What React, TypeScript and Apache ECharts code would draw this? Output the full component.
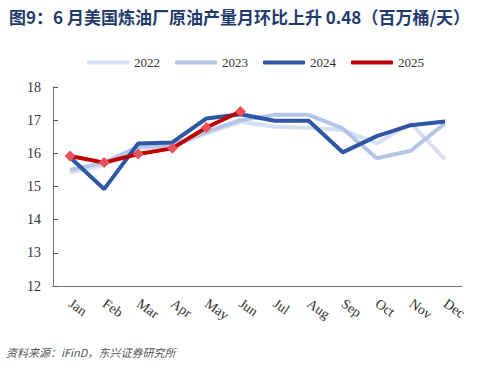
import React, { useEffect, useRef } from "react";
import * as echarts from "echarts";

const months = ["Jan", "Feb", "Mar", "Apr", "May", "Jun", "Jul", "Aug", "Sep", "Oct", "Nov", "Dec"];
const s2022 = [15.42, 15.65, 16.15, 16.2, 16.6, 16.95, 16.8, 16.77, 16.7, 16.3, 16.9, 15.82];
const s2023 = [15.5, 15.72, 16.2, 16.25, 16.65, 17.0, 17.16, 17.16, 16.75, 15.85, 16.08, 16.9];
const s2024 = [15.88, 14.92, 16.3, 16.33, 17.05, 17.18, 16.98, 16.98, 16.03, 16.52, 16.85, 16.96];
const s2025 = [15.92, 15.72, 15.98, 16.15, 16.78, 17.26];

export default function App() {
  const ref = useRef<HTMLDivElement>(null);
  useEffect(() => {
    const chart = echarts.init(ref.current!, null, { renderer: "svg" });
    const serif = "'Liberation Serif', 'Times New Roman', serif";
    const mk = (name: string, data: number[], color: string, z: number) => ({
      name,
      type: "line",
      data,
      z,
      symbol: "none",
      lineStyle: { color, width: 4 },
      itemStyle: { color },
    });
    chart.setOption({
      animation: false,
      title: {
        text: "图9：6 月美国炼油厂原油产量月环比上升 0.48（百万桶/天）",
        left: 4,
        top: 3,
        textStyle: {
          color: "#1f3b6e",
          fontSize: 17,
          fontWeight: "bold",
          fontFamily: "'Noto Sans CJK SC', sans-serif",
        },
      },
      graphic: [
        {
          type: "text",
          left: 6,
          top: 346,
          style: {
            text: "资料来源：iFinD，东兴证券研究所",
            fill: "#555",
            font: "italic 11px 'Noto Sans CJK SC', sans-serif",
          },
        },
      ],
      legend: {
        top: 51,
        left: 82,
        itemWidth: 42,
        itemHeight: 4,
        itemGap: 15,
        textStyle: { fontFamily: serif, fontSize: 13, color: "#333" },
        data: [
          { name: "2022", icon: "roundRect" },
          { name: "2023", icon: "roundRect" },
          { name: "2024", icon: "roundRect" },
          { name: "2025", icon: "roundRect", itemStyle: { color: "#c00000" } },
        ],
      },
      grid: { left: 53, right: 30, top: 87, bottom: 82 },
      xAxis: {
        type: "category",
        data: months,
        boundaryGap: true,
        axisLine: { lineStyle: { color: "#777" } },
        axisTick: { inside: true, length: 4, lineStyle: { color: "#555" } },
        axisLabel: {
          rotate: -35,
          margin: 16,
          fontFamily: serif,
          fontSize: 14,
          color: "#333",
        },
      },
      yAxis: {
        type: "value",
        min: 12,
        max: 18,
        interval: 1,
        splitLine: { show: false },
        axisLine: { show: true, lineStyle: { color: "#777" } },
        axisTick: { show: true, inside: true, length: 5, lineStyle: { color: "#555" } },
        axisLabel: { fontFamily: serif, fontSize: 14, color: "#333", margin: 12 },
      },
      series: [
        mk("2022", s2022, "#d6e0f3", 1),
        mk("2023", s2023, "#b3c6e8", 2),
        mk("2024", s2024, "#2f55a4", 3),
        {
          name: "2025",
          type: "line",
          data: s2025,
          z: 4,
          symbol: "diamond",
          symbolSize: 11,
          lineStyle: { color: "#c00000", width: 4 },
          itemStyle: { color: "#e8505b" },
        },
      ],
    });
    return () => chart.dispose();
  }, []);
  return <div ref={ref} style={{ width: 492, height: 368, position: "absolute", left: 0, top: 0 }} />;
}
